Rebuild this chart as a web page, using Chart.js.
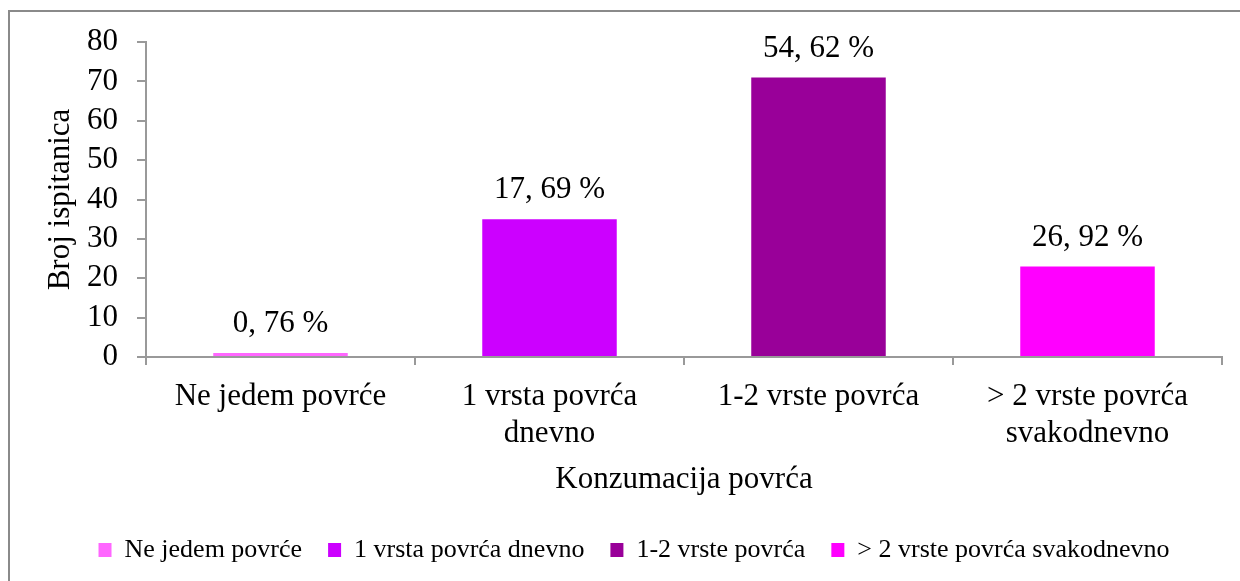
<!DOCTYPE html>
<html>
<head>
<meta charset="utf-8">
<script src="https://cdn.jsdelivr.net/npm/chart.js@4.4.1/dist/chart.umd.min.js"></script>
<style>
  html, body { margin: 0; padding: 0; background: #fff; }
  #wrap { width: 1240px; height: 581px; position: relative; }
</style>
</head>
<body>
<div id="wrap"><canvas id="c" width="1240" height="581"></canvas></div>
<script>
const categories = [
  "Ne jedem povrće",
  ["1 vrsta povrća", "dnevno"],
  "1-2 vrste povrća",
  ["> 2 vrste povrća", "svakodnevno"]
];
const legendLabels = [
  "Ne jedem povrće",
  "1 vrsta povrća dnevno",
  "1-2 vrste povrća",
  "> 2 vrste povrća svakodnevno"
];
const counts = [1, 35, 71, 23];
const percentLabels = ["0, 76 %", "17, 69 %", "54, 62 %", "26, 92 %"];
const barColors = ["#FF66FF", "#CC00FF", "#990099", "#FF00FF"];
const yTitle = "Broj ispitanica";
const xTitle = "Konzumacija povrća";

const FONT = "'Liberation Serif', 'Times New Roman', serif";
const AXIS = "#999999";

const frame = {
  id: 'frame',
  beforeDraw(chart) {
    const ctx = chart.ctx;
    ctx.save();
    ctx.fillStyle = '#fff';
    ctx.fillRect(0, 0, chart.width, chart.height);
    ctx.strokeStyle = '#8a8a8a';
    ctx.lineWidth = 2;
    ctx.beginPath();
    ctx.moveTo(9, 581);
    ctx.lineTo(9, 11);
    ctx.lineTo(1240, 11);
    ctx.stroke();
    ctx.restore();
  }
};

const legendShift = {
  id: 'legendShift',
  afterLayout(chart) {
    const lg = chart.legend;
    if (lg) { lg.left += 23; lg.right += 23; }
  }
};

const valueLabels = {
  id: 'valueLabels',
  afterDatasetsDraw(chart) {
    const ctx = chart.ctx;
    const meta = chart.getDatasetMeta(0);
    ctx.save();
    ctx.font = "31px " + FONT;
    ctx.fillStyle = '#000';
    ctx.textAlign = 'center';
    ctx.textBaseline = 'middle';
    meta.data.forEach((bar, i) => {
      ctx.fillText(percentLabels[i], bar.x, bar.y - 29);
    });
    ctx.restore();
  }
};

new Chart(document.getElementById('c'), {
  type: 'bar',
  data: {
    labels: categories,
    datasets: [{
      data: counts,
      backgroundColor: barColors,
      borderWidth: 0,
      barPercentage: 0.5,
      categoryPercentage: 1.0
    }]
  },
  options: {
    responsive: false,
    animation: false,
    devicePixelRatio: 1,
    layout: { padding: { left: 0, right: 18, top: 42, bottom: 8 } },
    plugins: {
      tooltip: { enabled: false },
      legend: {
        position: 'bottom',
        labels: {
          font: { family: FONT, size: 26 },
          color: '#000',
          boxWidth: 13,
          boxHeight: 14,
          padding: 26,
          generateLabels: () => legendLabels.map((t, i) => ({
            text: t,
            fillStyle: barColors[i],
            strokeStyle: barColors[i],
            lineWidth: 0,
            hidden: false,
            index: i
          }))
        }
      }
    },
    scales: {
      x: {
        grid: {
          offset: true,
          drawOnChartArea: false,
          drawTicks: true,
          tickLength: 8,
          color: AXIS,
          lineWidth: 2
        },
        border: { color: AXIS, width: 2 },
        ticks: {
          font: { family: FONT, size: 31, lineHeight: 1.2 },
          color: '#000',
          padding: 13,
          maxRotation: 0,
          autoSkip: false
        },
        title: {
          display: true,
          text: xTitle,
          font: { family: FONT, size: 31 },
          color: '#000',
          padding: { top: 0, bottom: 13 }
        },
        afterFit(scale) { scale.height = 154; }
      },
      y: {
        min: 0,
        max: 80,
        grid: {
          drawOnChartArea: false,
          drawTicks: true,
          tickLength: 9,
          color: AXIS,
          lineWidth: 2
        },
        border: { color: AXIS, width: 2 },
        ticks: {
          stepSize: 10,
          autoSkip: false,
          font: { family: FONT, size: 31 },
          color: '#000',
          padding: 19
        },
        title: {
          display: true,
          text: yTitle,
          font: { family: FONT, size: 31 },
          color: '#000',
          padding: { top: 42, bottom: 0 }
        },
        afterFit(scale) { scale.width = 146; }
      }
    }
  },
  plugins: [frame, legendShift, valueLabels]
});
</script>
</body>
</html>
